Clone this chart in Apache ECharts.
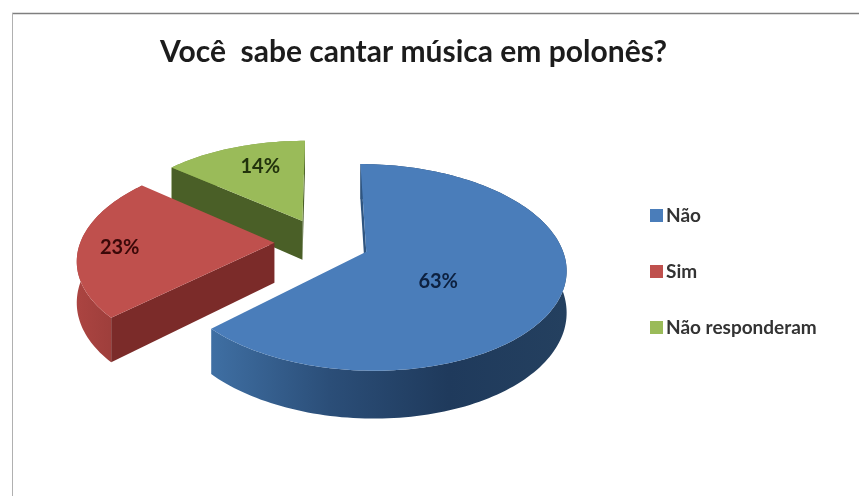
<!DOCTYPE html>
<html>
<head>
<meta charset="utf-8">
<style>html,body{margin:0;padding:0;background:#fff}#chart{width:859px;height:496px}</style>
<script src="https://cdn.jsdelivr.net/npm/echarts@6/dist/echarts.min.js"></script>
</head>
<body>
<div id="chart"></div>
<script>
const categories = ['Não', 'Sim', 'Não responderam'];
const shares = [63, 23, 14];
const titleText = 'Você  sabe cantar música em polonês?';

// Look of each slice, in category order.
const sliceLook = [
  { top: '#4a7dba', outer: ['#3f6fa3', '#2b4e78', '#1f3a5c', '#24405f'], flat: '#2f5580', labelAt: [0.37, 0.14], ink: '#0d2140' },
  { top: '#bf504d', outer: ['#ab4441', '#933a37'], flat: '#7b2b29', labelAt: [0.79, 0.02], ink: '#3a0808' },
  { top: '#9abb59', outer: ['#7f9c48', '#7f9c48'], flat: '#4a5f27', labelAt: [0.6, -0.11], ink: '#22330c' }
];

// Projection of the tilted pie onto the page.
const pie = { cx: 322, cy: 242, rx: 194, ry: 98, depth: 40, tilt: 0.15, explode: 0.245 };

function project(u, v, z) {
  const s = 1 / (1 - pie.tilt * v);
  return [pie.cx + pie.rx * u * s, pie.cy + pie.ry * v * s + pie.depth * z * s];
}

function sliceShape(index) {
  const total = shares.reduce((a, b) => a + b, 0);
  const before = shares.slice(0, index).reduce((a, b) => a + b, 0);
  const t0 = before / total * Math.PI * 2;
  const t1 = (before + shares[index]) / total * Math.PI * 2;
  const mid = (t0 + t1) / 2;
  const ou = pie.explode * Math.sin(mid);
  const ov = -pie.explode * Math.cos(mid);
  const rim = (t, z) => project(ou + Math.sin(t), ov - Math.cos(t), z);
  const steps = Math.max(12, Math.round((t1 - t0) * 40));
  const arcTop = [], arcBottom = [];
  for (let i = 0; i <= steps; i++) {
    const t = t0 + (t1 - t0) * i / steps;
    arcTop.push(rim(t, 0));
    arcBottom.push(rim(t, 1));
  }
  const apexTop = project(ou, ov, 0);
  const apexBottom = project(ou, ov, 1);
  const look = sliceLook[index];
  const inner = rim(mid, 0);
  const labelPoint = project(
    ou + look.labelAt[0] * Math.sin(mid),
    ov - look.labelAt[0] * Math.cos(mid) + look.labelAt[1], 0);
  return { apexTop, apexBottom, arcTop, arcBottom, labelPoint, look, inner };
}

// A cut face shows only when the slice's own top lies above its edge.
function faceShows(a, b, inside) {
  const side = (p) => (b[0] - a[0]) * (p[1] - a[1]) - (b[1] - a[1]) * (p[0] - a[0]);
  return side(inside) * side([a[0], a[1] + 1]) < 0;
}

function renderSlice(index) {
  return function () {
    const g = sliceShape(index);
    const look = g.look;
    const n = g.arcTop.length - 1;
    const xs = g.arcTop.map(p => p[0]);
    const outerFill = new echarts.graphic.LinearGradient(
      Math.min(...xs), 0, Math.max(...xs), 0,
      look.outer.map((c, i) => ({ offset: i / (look.outer.length - 1), color: c })), true);
    const poly = (points, fill) => ({
      type: 'polygon', silent: true,
      shape: { points }, style: { fill: fill }
    });
    const children = [poly(g.arcTop.concat(g.arcBottom.slice().reverse()), outerFill)];
    [0, n].forEach((k) => {
      if (faceShows(g.apexTop, g.arcTop[k], g.inner)) {
        children.push(poly([g.apexTop, g.arcTop[k], g.arcBottom[k], g.apexBottom], look.flat));
      }
    });
    children.push(poly([g.apexTop].concat(g.arcTop), look.top));
    children.push({
      type: 'text', silent: true,
      style: {
        x: g.labelPoint[0], y: g.labelPoint[1],
        text: shares[index] + '%',
        fill: look.ink, align: 'center', verticalAlign: 'middle',
        font: 'bold 20px Lato, sans-serif'
      }
    });
    return { type: 'group', children };
  };
}

const chart = echarts.init(document.getElementById('chart'), null, { renderer: 'canvas' });
chart.setOption({
  animation: false,
  backgroundColor: '#ffffff',
  title: {
    text: titleText,
    left: 160, top: 37,
    padding: 0,
    textStyle: { fontFamily: 'Lato, sans-serif', fontSize: 30, fontWeight: 'bold', color: '#1c1c1c' }
  },
  legend: {
    orient: 'vertical',
    left: 645, top: 201,
    itemWidth: 13, itemHeight: 13, itemGap: 37,
    icon: 'rect',
    data: categories,
    textStyle: { fontFamily: 'Lato, sans-serif', fontSize: 19, fontWeight: 'bold', color: '#333333', padding: [0, 0, 0, -2] }
  },
  graphic: [
    { type: 'line', silent: true, shape: { x1: 12, y1: 13.5, x2: 859, y2: 13.5 }, style: { stroke: '#7f7f7f', lineWidth: 1.5 } },
    { type: 'line', silent: true, shape: { x1: 12.5, y1: 13, x2: 12.5, y2: 496 }, style: { stroke: '#b0b0b0', lineWidth: 1 } }
  ],
  series: categories.map((name, i) => ({
    type: 'custom',
    name,
    coordinateSystem: 'none',
    z: [3, 2, 1][i],
    itemStyle: { color: sliceLook[i].top },
    data: [shares[i]],
    renderItem: renderSlice(i)
  }))
});
</script>
</body>
</html>
